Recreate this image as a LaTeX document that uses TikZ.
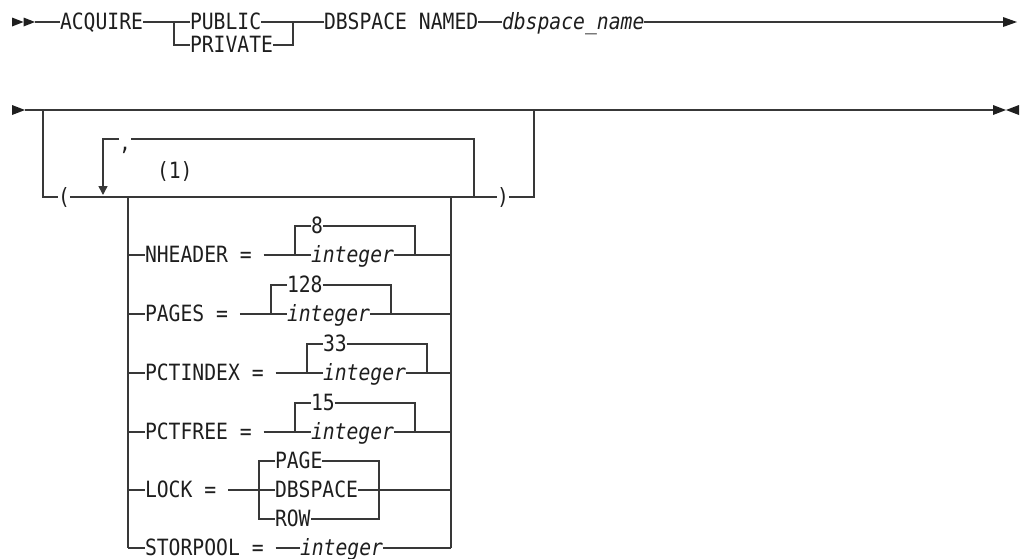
\documentclass[tikz,border=0pt]{standalone}
\usepackage{fontspec}
\setmonofont[FakeStretch=0.88]{DejaVu Sans Mono}
\usetikzlibrary{arrows.meta}
\definecolor{ln}{HTML}{383838}
\definecolor{tx}{HTML}{1E1E1E}
\newcommand{\synrow}[7]{%
  \coordinate (#1l) at (128,#2);
  \node[lbl] (#1) at (145,#2) {#4};
  \coordinate (#1b) at (#5,#2);
  \coordinate (#1bt) at (#5,#3);
  \node[lbl] (#1d) at (#5+16,#3) {#6};
  \node[var] (#1i) at (#5+16,#2) {integer};
  \coordinate (#1r) at (#7,#2);
  \coordinate (#1rt) at (#7,#3);
  \coordinate (#1e) at (451,#2);
  \draw[rail] (#1l) -- (#1.west);
  \draw[rail] (#1.east) -- (#1b) -- (#1i.west);
  \draw[rail] (#1b) -- (#1bt) -- (#1d.west);
  \draw[rail] (#1d.east) -- (#1rt) -- (#1r);
  \draw[rail] (#1i.east) -- (#1r) -- (#1e);
}
\begin{document}
\begin{tikzpicture}[x=1pt,y=-1pt,
  lbl/.style={inner sep=0pt, outer sep=0pt, anchor=west, text height=15pt, text depth=0pt,
    font=\fontsize{22.4}{24}\selectfont\ttfamily, text=tx},
  var/.style={lbl, font=\fontsize{22.4}{24}\selectfont\ttfamily\itshape},
  rail/.style={draw=ln, line width=1.4pt},
  tip/.style={fill=black!88}]
\useasboundingbox (0,0) rectangle (1021,558);

% ---------- Row 1 ----------
\fill[tip] (12,17.5) -- (23.5,22) -- (12,26.5) -- cycle;
\fill[tip] (23.5,17.5) -- (35,22) -- (23.5,26.5) -- cycle;
\coordinate (s1) at (35,22);
\node[lbl] (acq) at (60,22) {ACQUIRE};
\coordinate (b1) at (174,22);
\coordinate (b1d) at (174,45);
\node[lbl] (pub) at (190,22) {PUBLIC};
\node[lbl] (prv) at (190,45) {PRIVATE};
\coordinate (m1) at (293,22);
\coordinate (m1d) at (293,45);
\node[lbl] (dbn) at (324,22) {DBSPACE NAMED};
\node[var] (dbv) at (502,22) {dbspace\_name};
\coordinate (e1) at (1003,22);
\draw[rail] (s1) -- (acq.west);
\draw[rail] (acq.east) -- (b1) -- (pub.west);
\draw[rail] (b1) -- (b1d) -- (prv.west);
\draw[rail] (pub.east) -- (m1) -- (dbn.west);
\draw[rail] (prv.east) -- (m1d) -- (m1);
\draw[rail] (dbn.east) -- (dbv.west);
\draw[rail] (dbv.east) -- (e1);
\fill[tip] (1003,17) -- (1017,22) -- (1003,27) -- cycle;

% ---------- Row 2 ----------
\fill[tip] (12,105) -- (25,110) -- (12,115) -- cycle;
\coordinate (s2) at (25,110);
\coordinate (j2) at (43,110);
\coordinate (k2) at (534,110);
\coordinate (e2) at (993,110);
\draw[rail] (s2) -- (j2) -- (k2) -- (e2);
\fill[tip] (993,105) -- (1006,110) -- (993,115) -- cycle;
\fill[tip] (1019,105) -- (1006,110) -- (1019,115) -- cycle;

\coordinate (j2d) at (43,197);
\node[lbl] (lp) at (58,197) {(};
\draw[rail] (j2) -- (j2d) -- (lp.west);
\coordinate (cl) at (128,197);
\coordinate (cr) at (451,197);
\coordinate (lr) at (474,197);
\node[lbl] (rp) at (497,197) {)};
\draw[rail] (lp.east) -- (cl) -- (cr) -- (lr) -- (rp.west);
\coordinate (k2d) at (534,197);
\draw[rail] (rp.east) -- (k2d) -- (k2);

% repeat loop
\coordinate (lrt) at (474,139);
\coordinate (lat) at (103,139);
\coordinate (lae) at (103,195);
\node[lbl] (cm) at (119,143) {,};
\draw[rail] (lr) -- (lrt) -- (lrt -| cm.east);
\draw[rail, -{Triangle[length=9pt,width=9pt]}] (lat -| cm.west) -- (lat) -- (lae);
\node[lbl] (fn) at (157,171) {(1)};

% choice box
\coordinate (spl) at (128,548);
\coordinate (spe) at (451,548);
\draw[rail] (cl) -- (spl);
\draw[rail] (cr) -- (spe);

\synrow{nh}{255}{226}{NHEADER =~\null}{295}{8}{415}
\synrow{pg}{314}{285}{PAGES =~\null}{271}{128}{391}
\synrow{pi}{373}{344}{PCTINDEX =~\null}{307}{33}{427}
\synrow{pf}{432}{403}{PCTFREE =~\null}{295}{15}{415}

% LOCK
\coordinate (lkl) at (128,490);
\node[lbl] (lk) at (145,490) {LOCK =~\null};
\coordinate (lkb) at (259,490);
\coordinate (lkbt) at (259,461);
\coordinate (lkbb) at (259,519);
\node[lbl] (lkp) at (275,461) {PAGE};
\node[lbl] (lkd) at (275,490) {DBSPACE};
\node[lbl] (lkr) at (275,519) {ROW};
\coordinate (lkrx) at (379,490);
\coordinate (lkrt) at (379,461);
\coordinate (lkrb) at (379,519);
\coordinate (lke) at (451,490);
\draw[rail] (lkl) -- (lk.west);
\draw[rail] (lk.east) -- (lkb) -- (lkd.west);
\draw[rail] (lkp.west) -- (lkbt) -- (lkbb) -- (lkr.west);
\draw[rail] (lkp.east) -- (lkrt) -- (lkrb) -- (lkr.east);
\draw[rail] (lkd.east) -- (lkrx) -- (lke);

% STORPOOL
\node[lbl] (sp) at (145,548) {STORPOOL =~\null};
\node[var] (spi) at (300,548) {integer};
\draw[rail] (spl) -- (sp.west);
\draw[rail] (sp.east) -- (spi.west);
\draw[rail] (spi.east) -- (spe);
\end{tikzpicture}
\end{document}
